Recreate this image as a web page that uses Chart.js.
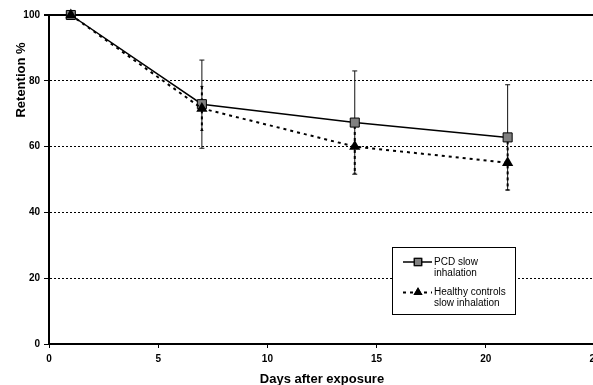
<!DOCTYPE html>
<html>
<head>
<meta charset="utf-8">
<script src="https://cdn.jsdelivr.net/npm/chart.js@4/dist/chart.umd.min.js"></script>
<style>
  html, body { margin: 0; padding: 0; background: #fff; overflow: hidden; }
  #chart { display: block; }
</style>
</head>
<body>
<canvas id="chart" width="620" height="385"></canvas>
<script>
// data
var days = [1, 7, 14, 21];
var pcdValues = [100, 72.9, 67.3, 62.8];
var pcdErrors = [0, 13.4, 15.7, 16];
var healthyValues = [100, 71.6, 60.0, 55.1];
var healthyErrors = [0, 6.7, 8.1, 8.3];
var seriesLabels = ['PCD slow inhalation', 'Healthy controls slow inhalation'];
var legendLines = [['PCD slow', 'inhalation'], ['Healthy controls', 'slow inhalation']];
var yTitle = 'Retention %';
var xTitle = 'Days after exposure';

Chart.defaults.font.family = "'Liberation Sans', Arial, sans-serif";
Chart.defaults.color = '#000';

var toPoints = function (vals) {
    return days.map(function (d, i) { return { x: d, y: vals[i] }; });
};

// error bars, drawn under the markers
var errorBars = {
    id: 'errorBars',
    beforeDatasetsDraw: function (chart) {
        var ctx = chart.ctx;
        var y = chart.scales.y;
        var errs = [pcdErrors, healthyErrors];
        var styles = [
            { width: 1, dash: [], cap: 2.5, color: '#111' },
            { width: 2, dash: [3, 3], cap: 1.5, color: '#000' }
        ];
        ctx.save();
        errs.forEach(function (err, di) {
            var meta = chart.getDatasetMeta(di);
            var vals = chart.data.datasets[di].data;
            var st = styles[di];
            meta.data.forEach(function (pt, j) {
                if (!err[j]) return;
                var top = y.getPixelForValue(vals[j].y + err[j]);
                var bot = y.getPixelForValue(vals[j].y - err[j]);
                ctx.strokeStyle = st.color;
                ctx.lineWidth = st.width;
                ctx.setLineDash(st.dash);
                ctx.beginPath();
                ctx.moveTo(pt.x, top);
                ctx.lineTo(pt.x, bot);
                ctx.stroke();
                ctx.setLineDash([]);
                ctx.lineWidth = 1;
                ctx.beginPath();
                ctx.moveTo(pt.x - st.cap, top);
                ctx.lineTo(pt.x + st.cap, top);
                ctx.moveTo(pt.x - st.cap, bot);
                ctx.lineTo(pt.x + st.cap, bot);
                ctx.stroke();
            });
        });
        ctx.restore();
    }
};

// boxed legend with two-line labels, plus the y title
var extras = {
    id: 'extras',
    afterDraw: function (chart) {
        var ctx = chart.ctx;
        ctx.save();

        // y title
        ctx.font = "bold 13px 'Liberation Sans', Arial, sans-serif";
        ctx.fillStyle = '#000';
        ctx.textAlign = 'center';
        ctx.textBaseline = 'middle';
        ctx.translate(21, 80);
        ctx.rotate(-Math.PI / 2);
        ctx.fillText(yTitle, 0, 0);
        ctx.setTransform(1, 0, 0, 1, 0, 0);

        // legend box
        var bx = 392.5, by = 247.5, bw = 123, bh = 67;
        ctx.fillStyle = '#fff';
        ctx.fillRect(bx, by, bw, bh);
        ctx.strokeStyle = '#000';
        ctx.lineWidth = 1;
        ctx.strokeRect(bx, by, bw, bh);

        var rows = [262, 292.5];
        chart.data.datasets.forEach(function (ds, i) {
            var ry = rows[i];
            ctx.strokeStyle = ds.borderColor;
            ctx.lineWidth = ds.borderWidth;
            ctx.setLineDash(ds.borderDash || []);
            ctx.beginPath();
            ctx.moveTo(403, ry);
            ctx.lineTo(432, ry);
            ctx.stroke();
            ctx.setLineDash([]);
            Chart.helpers.drawPoint(ctx, {
                pointStyle: ds.pointStyle,
                radius: ds.pointRadius * 0.8,
                borderWidth: ds.pointBorderWidth,
                rotation: 0
            }, 418, ry);
            ctx.fillStyle = ds.pointBackgroundColor;
            ctx.strokeStyle = ds.pointBorderColor;
            ctx.lineWidth = ds.pointBorderWidth;
            ctx.fill();
            if (ds.pointBorderWidth) ctx.stroke();

            ctx.font = "10px 'Liberation Sans', Arial, sans-serif";
            ctx.fillStyle = '#000';
            ctx.textAlign = 'left';
            ctx.textBaseline = 'middle';
            legendLines[i].forEach(function (line, k) {
                ctx.fillText(line, 434, ry + k * 10.8);
            });
        });
        ctx.restore();
    }
};

var config = {
    type: 'line',
    data: {
        datasets: [{
            label: seriesLabels[0],
            data: toPoints(pcdValues),
            order: 2,
            borderColor: '#000',
            borderWidth: 1.5,
            pointStyle: 'rect',
            pointRadius: 6.4,
            pointBackgroundColor: '#808080',
            pointBorderColor: '#000',
            pointBorderWidth: 1,
            tension: 0,
            clip: false
        }, {
            label: seriesLabels[1],
            data: toPoints(healthyValues),
            order: 1,
            borderColor: '#000',
            borderWidth: 2,
            borderDash: [3, 4],
            pointStyle: 'triangle',
            pointRadius: 6.5,
            pointBackgroundColor: '#000',
            pointBorderColor: '#000',
            pointBorderWidth: 0,
            tension: 0,
            clip: false
        }]
    },
    options: {
        responsive: false,
        animation: false,
        layout: {
            padding: { left: 0, right: 25, top: 15, bottom: 0 }
        },
        plugins: {
            legend: { display: false },
            tooltip: { enabled: false }
        },
        scales: {
            x: {
                type: 'linear',
                min: 0,
                max: 25,
                afterFit: function (scale) { scale.height = 41; },
                ticks: {
                    stepSize: 5,
                    padding: 5,
                    maxRotation: 0,
                    font: { size: 10, weight: 'bold' }
                },
                grid: {
                    drawOnChartArea: false,
                    color: '#000',
                    tickLength: 4
                },
                border: { color: '#000', width: 2 },
                title: {
                    display: true,
                    text: xTitle,
                    font: { size: 13, weight: 'bold' },
                    padding: { top: 0, bottom: -2 }
                }
            },
            y: {
                min: 0,
                max: 100,
                afterFit: function (scale) { scale.width = 49; },
                ticks: {
                    stepSize: 20,
                    padding: 4,
                    font: { size: 10, weight: 'bold' }
                },
                grid: {
                    color: '#000',
                    tickLength: 5,
                    lineWidth: function (c) {
                        return c.tick && c.tick.value === 100 ? 2 : 1;
                    }
                },
                border: {
                    color: '#000',
                    width: 2,
                    dash: function (c) {
                        return (c.tick && c.tick.value > 0 && c.tick.value < 100) ? [2, 2] : [];
                    }
                }
            }
        }
    },
    plugins: [errorBars, extras]
};

window.myChart = new Chart(document.getElementById('chart').getContext('2d'), config);
</script>
</body>
</html>
